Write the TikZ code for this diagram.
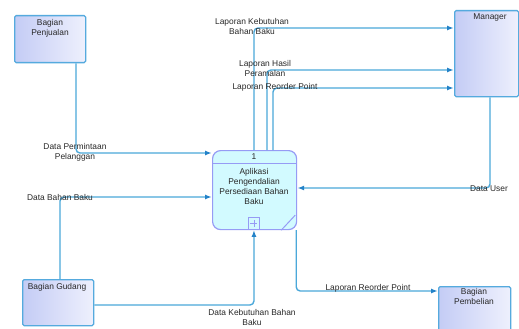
\documentclass[tikz,border=0pt]{standalone}
\usepackage{fontspec}
\setmainfont{Liberation Sans}
\usetikzlibrary{arrows.meta,calc}
\definecolor{ln}{RGB}{75,168,218}
\definecolor{tipc}{RGB}{35,130,200}
\definecolor{entb}{RGB}{85,170,222}
\definecolor{entA}{RGB}{196,204,245}
\definecolor{entB}{RGB}{238,240,253}
\definecolor{prf}{RGB}{210,250,255}
\definecolor{prb}{RGB}{150,155,245}
\definecolor{txt}{RGB}{40,40,40}
\begin{document}
\begin{tikzpicture}[x=1pt,y=-1pt,
  ent/.style={draw=entb, line width=1.3pt, rounded corners=1.5pt, left color=entA, right color=entB, anchor=north west, inner sep=0pt},
  flow/.style={draw=ln, line width=1.4pt, rounded corners=4pt, -{Latex[length=7pt,width=5pt,color=tipc]}},
  lbl/.style={font=\fontsize{8.4}{10}\selectfont, text=txt, align=center, inner sep=0pt},
  hd/.style={lbl, anchor=north}
]
\useasboundingbox[fill=white] (0,0) rectangle (519,329);

% external entities
\node[ent, minimum width=71pt, minimum height=47pt] (pj) at (14,15) {};
\node[hd] (pjt) at (50,19) {Bagian\\Penjualan};
\node[ent, minimum width=64pt, minimum height=86pt] (mg) at (454,10) {};
\node[hd] (mgt) at (490,14) {Manager};
\node[ent, minimum width=71pt, minimum height=46pt] (gd) at (22,279) {};
\node[hd] (gdt) at (57,283) {Bagian Gudang};
\node[ent, minimum width=72pt, minimum height=50pt] (pb) at (438,286) {};
\node[hd] (pbt) at (474,288) {Bagian\\Pembelian};

% process
\node[draw=prb, line width=1.2pt, fill=prf, rounded corners=8pt, minimum width=84pt, minimum height=79pt, anchor=north west, inner sep=0pt] (proc) at (212,150) {};
\draw[prb, line width=1pt] ($(proc.north west)+(0,13)$) coordinate (hl) -- ($(proc.north east)+(0,13)$) coordinate (hr);
\node[lbl] (pnum) at (254,157) {1};
\node[lbl, anchor=north] (ptxt) at (254,168) {Aplikasi\\Pengendalian\\Persediaan Bahan\\Baku};
\node[draw=prb, line width=0.9pt, fill=prf, minimum width=11pt, minimum height=12pt, inner sep=0pt, anchor=north west] (plus) at (248,217) {};
\draw[prb, line width=0.8pt] ($(plus.center)+(-3.5,0)$) coordinate (pa) -- ($(plus.center)+(3.5,0)$) coordinate (pb2);
\draw[prb, line width=0.8pt] ($(plus.center)+(0,-3.5)$) coordinate (pc) -- ($(plus.center)+(0,3.5)$) coordinate (pd);
\draw[prb, line width=1pt] ($(proc.south east)+(-2,-15)$) coordinate (d1) -- ($(proc.south east)+(-16,0)$) coordinate (d2);

% flows
\draw[flow] ($(pj.south west)+(62,0)$) |- ($(proc.north west)+(0,3)$);
\node[lbl] (l1) at (75,152) {Data Permintaan\\Pelanggan};

\draw[flow] ($(gd.north west)+(38,0)$) |- ($(proc.north west)+(0,47)$);
\node[lbl] (l2) at (60,197) {Data Bahan Baku};

\draw[flow] ($(gd.north east)+(0,26)$) -| (plus.south);
\node[lbl] (l3) at (252,317) {Data Kebutuhan Bahan\\Baku};

\draw[flow] ($(proc.north west)+(42,0)$) |- ($(mg.north west)+(0,18)$);
\node[lbl] (l4) at (252,26) {Laporan Kebutuhan\\Bahan Baku};
\draw[flow] ($(proc.north west)+(55,0)$) |- ($(mg.north west)+(0,60)$);
\node[lbl] (l5) at (265,68) {Laporan Hasil\\Peramalan};
\draw[flow] ($(proc.north west)+(61,0)$) |- ($(mg.north west)+(0,78)$);
\node[lbl] (l6) at (275,87) {Laporan Reorder Point};

\draw[flow] ($(mg.south west)+(36,0)$) |- ($(proc.north east)+(0,38)$);
\node[lbl] (l7) at (489,189) {Data User};

\draw[flow] ($(proc.south east)+(-1,0)$) |- ($(pb.north west)+(0,5)$);
\node[lbl] (l8) at (368,288) {Laporan Reorder Point};
\end{tikzpicture}
\end{document}
